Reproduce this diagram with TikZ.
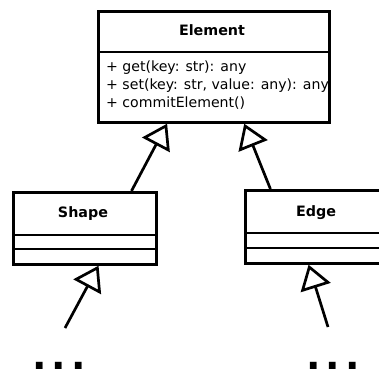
\documentclass[tikz,border=0pt]{standalone}
\usepackage{fontspec}
\setmainfont{DejaVu Sans}
\usetikzlibrary{arrows.meta,calc}
\begin{document}
\begin{tikzpicture}[x=1pt,y=-1pt,
  classbox/.style={draw, line width=2.7pt, inner sep=0pt, anchor=north west},
  divider/.style={line width=2.7pt},
  classname/.style={font=\bfseries\fontsize{14.3}{16}\selectfont},
  members/.style={font=\fontsize{14.1}{18}\selectfont, align=left, anchor=west, inner sep=0pt},
  inherit/.style={line width=2.7pt, -{Triangle[open, length=24pt, width=31pt, line width=2.7pt]}},
  more/.style={font=\bfseries\fontsize{38}{38}\selectfont, inner sep=0pt}]
\useasboundingbox (0,0) rectangle (379,374);
\clip (0,0) rectangle (379,374);

% Element class
\node[classbox, minimum width=231pt, minimum height=111pt] (element) at (97,10) {};
\draw[divider] ($(element.north west)+(0,42)$) -- ($(element.north east)+(0,42)$);
\node[classname] (elementname) at (212,30) {Element};
\node[members] (elementops) at (106,85) {+ get(key: str): any\\+ set(key: str, value: any): any\\+ commitElement()};

% Shape class
\node[classbox, minimum width=143pt, minimum height=72pt] (shape) at (12,191) {};
\draw[divider] ($(shape.north west)+(0,44)$) -- ($(shape.north east)+(0,44)$);
\draw[divider] ($(shape.north west)+(0,58)$) -- ($(shape.north east)+(0,58)$);
\node[classname] (shapename) at (83,214) {Shape};

% Edge class
\node[classbox, minimum width=144pt, minimum height=73pt] (edge) at (244,189) {};
\draw[divider] ($(edge.north west)+(0,44)$) -- ($(edge.north east)+(0,44)$);
\draw[divider] ($(edge.north west)+(0,59)$) -- ($(edge.north east)+(0,59)$);
\node[classname] (edgename) at (316,213) {Edge};

% Generalisations
\draw[inherit] ($(shape.north west)!0.82!(shape.north east)$) -- ($(element.south west)!0.30!(element.south east)$);
\draw[inherit] ($(edge.north west)!0.18!(edge.north east)$) -- ($(element.south west)!0.63!(element.south east)$);

\coordinate (subshape) at (65,328);
\coordinate (subedge) at (328,327);
\draw[inherit] (subshape) -- ($(shape.south west)!0.594!(shape.south east)$);
\draw[inherit] (subedge) -- ($(edge.south west)!0.44!(edge.south east)$);

% Further subclasses
\node[more] (moreshape) at (59,366) {.\kern5pt.\kern5pt.};
\node[more] (moreedge) at (333,366) {.\kern5pt.\kern5pt.};
\end{tikzpicture}
\end{document}
